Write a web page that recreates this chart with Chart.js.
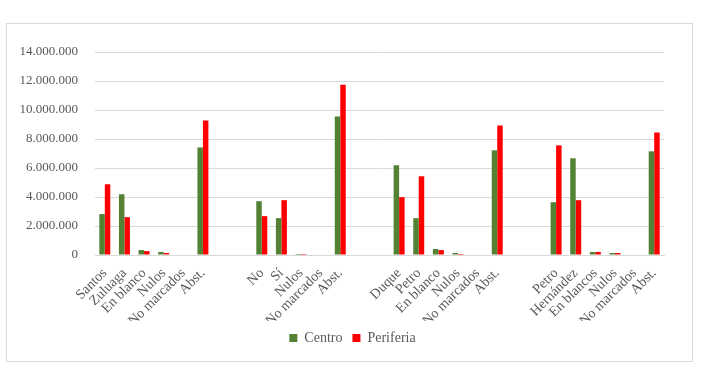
<!DOCTYPE html>
<html>
<head>
<meta charset="utf-8">
<script src="https://cdn.jsdelivr.net/npm/chart.js@4"></script>
<style>
  html, body { margin: 0; padding: 0; background: #fff; }
  #box {
    position: absolute; left: 6px; top: 23px;
    width: 685px; height: 337px;
    border: 1px solid #d9d9d9;
  }
</style>
</head>
<body>
<div id="box"><canvas id="chart" width="685" height="337"></canvas></div>
<script>
// categorías (las vacías separan las cuatro elecciones)
const labels = [
  'Santos', 'Zuluaga', 'En blanco', 'Nulos', 'No marcados', 'Abst.',
  '', '',
  'No', 'Sí', 'Nulos', 'No marcados', 'Abst.',
  '', '',
  'Duque', 'Petro', 'En blanco', 'Nulos', 'No marcados', 'Abst.',
  '', '',
  'Petro', 'Hernández', 'En blancos', 'Nulos', 'No marcados', 'Abst.'
];

const centro = [
  2820000, 4190000, 340000, 210000, 0, 7420000,
  null, null,
  3710000, 2540000, 70000, 0, 9550000,
  null, null,
  6190000, 2540000, 410000, 140000, 0, 7220000,
  null, null,
  3640000, 6670000, 210000, 140000, 0, 7150000
];

const periferia = [
  4880000, 2610000, 270000, 140000, 0, 9280000,
  null, null,
  2680000, 3780000, 70000, 0, 11750000,
  null, null,
  3990000, 5430000, 340000, 70000, 0, 8930000,
  null, null,
  7560000, 3780000, 210000, 140000, 0, 8450000
];

const family = "'Liberation Serif', 'DejaVu Serif', serif";
const textColor = '#595959';

// la leyenda de Excel está centrada un poco más a la derecha
const shiftLegend = {
  id: 'shiftLegend',
  afterLayout(chart) {
    chart.legend.left += 17;
    chart.legend.right += 17;
  }
};

new Chart(document.getElementById('chart'), {
  type: 'bar',
  data: {
    labels,
    datasets: [
      { label: 'Centro', data: centro, backgroundColor: '#548235' },
      { label: 'Periferia', data: periferia, backgroundColor: '#FF0000' }
    ]
  },
  options: {
    responsive: false,
    animation: false,
    categoryPercentage: 0.56,
    barPercentage: 1,
    layout: { padding: { top: 28, right: 28, left: 0, bottom: 6 } },
    plugins: {
      tooltip: { enabled: false },
      legend: {
        position: 'bottom',
        labels: { color: textColor, font: { family, size: 14 }, boxWidth: 8, boxHeight: 8, padding: 10 }
      }
    },
    scales: {
      x: {
        grid: { display: false },
        border: { color: '#d9d9d9' },
        ticks: {
          color: textColor, font: { family, size: 14 }, autoSkip: false,
          minRotation: 45, maxRotation: 45, padding: 2
        },
        afterFit(axis) { axis.height = 66; }
      },
      y: {
        min: 0, max: 14000000,
        grid: { color: '#d9d9d9', drawTicks: false },
        border: { display: false },
        ticks: {
          stepSize: 2000000, color: textColor, font: { family, size: 13 }, padding: 17,
          callback: v => String(v).replace(/\B(?=(\d{3})+(?!\d))/g, '.')
        },
        afterFit(axis) { axis.width = 88; }
      }
    }
  },
  plugins: [shiftLegend]
});
</script>
</body>
</html>
